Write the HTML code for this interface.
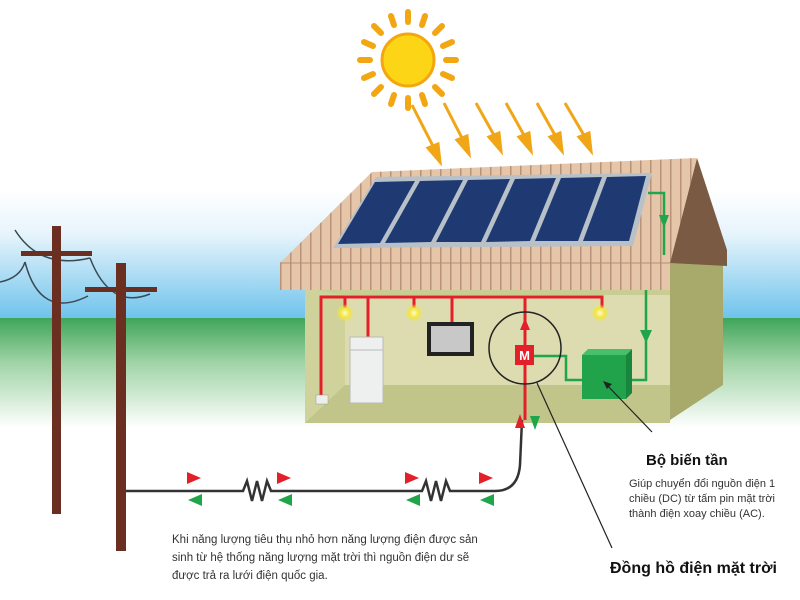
<!DOCTYPE html>
<html><head><meta charset="utf-8"><style>
body{margin:0;width:800px;height:600px;overflow:hidden;background:#fff}
svg{display:block}
text{font-family:"Liberation Sans",sans-serif}
</style></head><body>
<svg width="800" height="600" viewBox="0 0 800 600">
<defs>
<linearGradient id="sky" x1="0" y1="0" x2="0" y2="1">
<stop offset="0" stop-color="#fff"/><stop offset="0.35" stop-color="#e6f4fb"/><stop offset="1" stop-color="#6fc3ec"/></linearGradient>
<linearGradient id="grass" x1="0" y1="0" x2="0" y2="1">
<stop offset="0" stop-color="#3fa55a"/><stop offset="0.4" stop-color="#9fd3a5"/><stop offset="1" stop-color="#fff"/></linearGradient>
<radialGradient id="bulb"><stop offset="0" stop-color="#fffbd0"/><stop offset="0.5" stop-color="#f3e640"/><stop offset="1" stop-color="#f3e640" stop-opacity="0"/></radialGradient>
<pattern id="planks" width="10" height="10" patternUnits="userSpaceOnUse"><rect width="10" height="10" fill="#e6c6a8"/><rect width="1.5" height="10" fill="#b8927a"/></pattern>
</defs>
<rect width="800" height="600" fill="#fff"/>
<rect x="0" y="190" width="800" height="128" fill="url(#sky)"/>
<rect x="0" y="318" width="800" height="110" fill="url(#grass)"/>

<!-- sun -->
<g stroke="#f2a612" stroke-width="6" stroke-linecap="round">
<line x1="408" y1="22" x2="408" y2="12"/><line x1="408" y1="98" x2="408" y2="108"/>
<line x1="370" y1="60" x2="360" y2="60"/><line x1="446" y1="60" x2="456" y2="60"/>
<line x1="381" y1="33" x2="374" y2="26"/><line x1="435" y1="33" x2="442" y2="26"/>
<line x1="381" y1="87" x2="374" y2="94"/><line x1="435" y1="87" x2="442" y2="94"/>
<line x1="394" y1="25" x2="391" y2="16"/><line x1="422" y1="25" x2="425" y2="16"/>
<line x1="394" y1="95" x2="391" y2="104"/><line x1="422" y1="95" x2="425" y2="104"/>
<line x1="373" y1="46" x2="364" y2="42"/><line x1="443" y1="46" x2="452" y2="42"/>
<line x1="373" y1="74" x2="364" y2="78"/><line x1="443" y1="74" x2="452" y2="78"/>
</g>
<circle cx="408" cy="60" r="26" fill="#fcd616" stroke="#f5a60f" stroke-width="3"/>
<g stroke="#f0a616" stroke-width="3" fill="#f0a616">
<line x1="412" y1="105" x2="434" y2="148"/><path d="M428,148l12,14l-2,-18z"/>
<line x1="444" y1="103" x2="463" y2="140"/><path d="M457,140l12,14l-2,-18z"/>
<line x1="476" y1="103" x2="495" y2="137"/><path d="M489,137l12,14l-2,-18z"/>
<line x1="506" y1="103" x2="525" y2="137"/><path d="M519,137l12,14l-2,-18z"/>
<line x1="537" y1="103" x2="556" y2="137"/><path d="M550,137l12,14l-2,-18z"/>
<line x1="565" y1="103" x2="585" y2="137"/><path d="M579,137l12,14l-2,-18z"/>
</g>

<!-- poles -->
<g fill="none" stroke="#3a4a55" stroke-width="1.5">
<path d="M0,282 Q20,278 25,262"/><path d="M15,230 Q40,270 90,258"/>
<path d="M25,262 Q40,320 88,296"/><path d="M90,258 Q110,310 150,294"/>
</g>
<rect x="52" y="226" width="9" height="288" fill="#6b2f22"/>
<rect x="21" y="251" width="71" height="5" fill="#6b2f22"/>
<rect x="116" y="263" width="10" height="288" fill="#6b2f22"/>
<rect x="85" y="287" width="72" height="5" fill="#6b2f22"/>

<!-- house side wall -->
<polygon points="670,260 723,262 723,385 670,420" fill="#a8aa6c"/>
<polygon points="697,158 727,250 727,266 670,263" fill="#7a5a42"/>
<!-- front wall / interior -->
<rect x="305" y="288" width="365" height="135" fill="#c9cc93"/>
<polygon points="345,295 670,295 670,385 345,385" fill="#dcdcb0"/>
<polygon points="305,423 345,385 670,385 670,423" fill="#c2c58a"/>
<polygon points="305,288 345,295 345,385 305,423" fill="#cfd29a"/>
<!-- roof -->
<polygon points="372,172 697,158 670,263 280,263" fill="url(#planks)"/>
<rect x="280" y="263" width="390" height="27" fill="url(#planks)"/>
<line x1="280" y1="263" x2="670" y2="263" stroke="#b58e70" stroke-width="1"/>
<!-- panels -->
<polygon points="333,248 376,177 652,173 633,246" fill="#b8c0c8"/>
<g fill="#1f3a73">
<polygon points="338,244 375,182 415,181 380,243"/>
<polygon points="385,243 420,181 463,180 431,242"/>
<polygon points="436,242 468,180 510,179 481,242"/>
<polygon points="486,242 515,179 556,178 530,241"/>
<polygon points="535,241 561,178 602,177 578,241"/>
<polygon points="583,241 607,177 646,176 629,241"/>
</g>

<!-- red wiring -->
<g stroke="#e3202a" stroke-width="3" fill="none">
<path d="M321,400 V297 H602 V308"/><line x1="345" y1="297" x2="345" y2="308"/>
<line x1="368" y1="297" x2="368" y2="338"/><line x1="414" y1="297" x2="414" y2="308"/>
<line x1="452" y1="297" x2="452" y2="323"/><line x1="525" y1="297" x2="525" y2="420"/>
</g>
<circle cx="345" cy="313" r="9" fill="url(#bulb)"/><circle cx="414" cy="313" r="9" fill="url(#bulb)"/><circle cx="600" cy="313" r="9" fill="url(#bulb)"/>
<rect x="316" y="395" width="12" height="9" fill="#eee" stroke="#999" stroke-width="0.5"/>
<rect x="350" y="337" width="33" height="66" fill="#eef0f0" stroke="#bbb"/>
<line x1="350" y1="350" x2="383" y2="350" stroke="#bbb"/>
<rect x="427" y="322" width="47" height="34" fill="#222"/><rect x="431" y="326" width="39" height="26" fill="#c8c8c8"/>
<polygon points="525,318 520,330 530,330" fill="#e3202a"/>
<!-- green wiring -->
<g stroke="#1fa64a" stroke-width="2.5" fill="none">
<path d="M648,193 H664 V255"/>
<path d="M646,290 V380 H625"/>
<path d="M533,356 H566 V380 H583"/>
</g>
<polygon points="659,215 669,215 664,228" fill="#1fa64a"/>
<polygon points="640,330 652,330 646,343" fill="#1fa64a"/>
<rect x="582" y="355" width="44" height="44" fill="#20a34b"/>
<polygon points="582,355 588,349 632,349 626,355" fill="#46c06a"/><polygon points="626,355 632,349 632,393 626,399" fill="#18873d"/>
<rect x="515" y="345" width="19" height="20" fill="#e3202a"/>
<text x="524.5" y="360" font-size="13" fill="#fff" text-anchor="middle" font-weight="bold">M</text>
<circle cx="525" cy="348" r="36" fill="none" stroke="#222" stroke-width="1.5"/>

<!-- grid line -->
<path d="M126,491 H243 l4,-10 l5,20 l5,-20 l5,20 l5,-20 l4,10 H422 l4,-10 l5,20 l5,-20 l5,20 l5,-20 l4,10 H495 Q518,491 520,465 L522,420" fill="none" stroke="#333" stroke-width="2.5"/>
<polygon points="515,428 525,428 520,414" fill="#e3202a"/>
<polygon points="530,416 540,416 535,430" fill="#1fa64a"/>
<g fill="#e3202a"><polygon points="187,472 201,478 187,484"/><polygon points="277,472 291,478 277,484"/><polygon points="405,472 419,478 405,484"/><polygon points="479,472 493,478 479,484"/></g>
<g fill="#1fa64a"><polygon points="202,494 188,500 202,506"/><polygon points="292,494 278,500 292,506"/><polygon points="420,494 406,500 420,506"/><polygon points="494,494 480,500 494,506"/></g>

<!-- leaders -->
<line x1="537" y1="383" x2="612" y2="548" stroke="#222" stroke-width="1.2"/>
<line x1="605" y1="383" x2="652" y2="432" stroke="#222" stroke-width="1.2"/>
<polygon points="603,381 612,384 607,389" fill="#222"/>

<text x="646" y="465" font-size="15" font-weight="bold" fill="#111">Bộ biến tần</text>
<text x="629" y="487" font-size="11" fill="#333">Giúp chuyển đổi nguồn điện 1</text>
<text x="629" y="502" font-size="11" fill="#333">chiều (DC) từ tấm pin mặt trời</text>
<text x="629" y="517" font-size="11" fill="#333">thành điện xoay chiều (AC).</text>
<text x="610" y="573" font-size="16" font-weight="bold" fill="#111">Đồng hồ điện mặt trời</text>
<text x="172" y="543" font-size="11.5" fill="#333">Khi năng lượng tiêu thụ nhỏ hơn năng lượng điện được sản</text>
<text x="172" y="561" font-size="11.5" fill="#333">sinh từ hệ thống năng lượng mặt trời thì nguồn điện dư sẽ</text>
<text x="172" y="579" font-size="11.5" fill="#333">được trả ra lưới điện quốc gia.</text>
</svg>
</body></html>
